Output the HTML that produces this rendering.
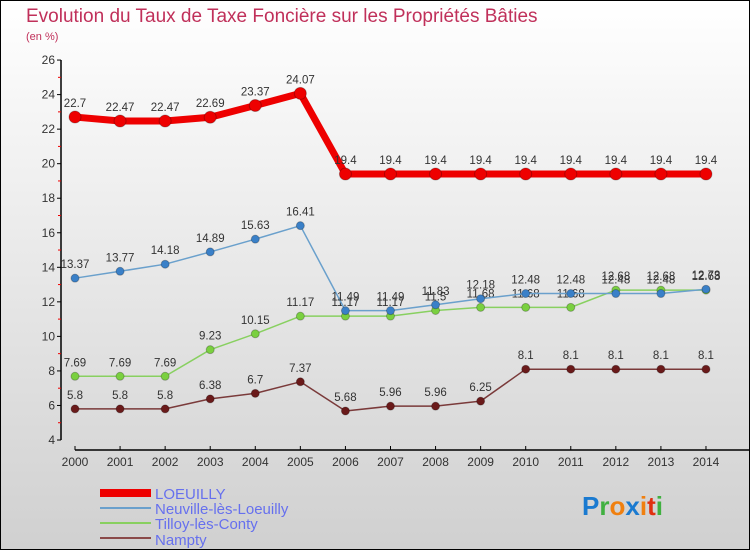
<!DOCTYPE html>
<html><head><meta charset="utf-8"><style>
body{margin:0;width:750px;height:550px;overflow:hidden;font-family:"Liberation Sans",sans-serif}
svg{display:block}
</style></head><body>
<svg id="c" width="750" height="550" xmlns="http://www.w3.org/2000/svg">
<defs><linearGradient id="bg" x1="0" y1="0" x2="0" y2="1"><stop offset="0" stop-color="#ffffff"/><stop offset="1" stop-color="#d0d0d0"/></linearGradient></defs>
<rect x="0.5" y="0.5" width="749" height="549" fill="url(#bg)" stroke="#000"/>
<text x="26" y="22" font-size="19" fill="#c0305a">Evolution du Taux de Taxe Foncière sur les Propriétés Bâties</text>
<text x="26" y="40" font-size="11" fill="#c0305a">(en %)</text>
<g id="axes"></g><g id="series"></g>
<g>
<rect x="100" y="489" width="51" height="8" fill="#e00"/>
<text x="155" y="499" font-size="15" fill="#6670ee">LOEUILLY</text>
<rect x="100" y="507" width="51" height="2" fill="#6aa0cc"/>
<text x="155" y="514" font-size="15" fill="#6670ee">Neuville-lès-Loeuilly</text>
<rect x="100" y="522" width="51" height="2" fill="#88d060"/>
<text x="155" y="529" font-size="15" fill="#6670ee">Tilloy-lès-Conty</text>
<rect x="100" y="537" width="51" height="2" fill="#8a4a4a"/>
<text x="155" y="545" font-size="15" fill="#6670ee">Nampty</text>
</g>
<g font-size="26" font-weight="bold">
<text x="582" y="515"><tspan fill="#1a7ad0">P</tspan><tspan fill="#40b040">r</tspan><tspan fill="#f08010">o</tspan><tspan fill="#1a7ad0">x</tspan><tspan fill="#f08010">i</tspan><tspan fill="#e03010">t</tspan><tspan fill="#40b040">i</tspan></text>
</g>
</svg>
<script>
const years=[2000,2001,2002,2003,2004,2005,2006,2007,2008,2009,2010,2011,2012,2013,2014];
const loeuilly=[22.7,22.47,22.47,22.69,23.37,24.07,19.4,19.4,19.4,19.4,19.4,19.4,19.4,19.4,19.4];
const neuville=[13.37,13.77,14.18,14.89,15.63,16.41,11.49,11.49,11.83,12.18,12.48,12.48,12.48,12.48,12.73];
const tilloy=[7.69,7.69,7.69,9.23,10.15,11.17,11.17,11.17,11.5,11.68,11.68,11.68,12.68,12.68,12.68];
const nampty=[5.8,5.8,5.8,6.38,6.7,7.37,5.68,5.96,5.96,6.25,8.1,8.1,8.1,8.1,8.1];
const yTicks=[4,6,8,10,12,14,16,18,20,22,24,26];
const NS="http://www.w3.org/2000/svg";
const x=i=>75+i*45.07;
const y=v=>440-(v-4)*17.27;
function mk(t,a,p){const e=document.createElementNS(NS,t);for(const k in a)e.setAttribute(k,a[k]);p.appendChild(e);return e;}
const ax=document.getElementById('axes');
mk('line',{x1:61,y1:60,x2:61,y2:440,stroke:'#000','stroke-width':1.5},ax);
mk('line',{x1:75,y1:450,x2:750,y2:450,stroke:'#000','stroke-width':1.5},ax);
yTicks.forEach(v=>{
 const g=mk('g',{},ax);
 
 
 mk('line',{x1:57,y1:y(v),x2:61,y2:y(v),stroke:'#000'},g);
 const t=mk('text',{x:55,y:y(v)+4,'font-size':12,'text-anchor':'end',fill:'#333'},g);t.textContent=v;
 if(v<26)mk('line',{x1:58,y1:y(v+1),x2:61,y2:y(v+1),stroke:'#e00'},g);
});
years.forEach((yr,i)=>{
 const g=mk('g',{},ax);
 
 
 mk('line',{x1:x(i),y1:446,x2:x(i),y2:450,stroke:'#000'},g);
 const t=mk('text',{x:x(i),y:466,'font-size':12,'text-anchor':'middle',fill:'#333'},g);t.textContent=yr;
});
const sg=document.getElementById('series');
function series(name,vals,col,dot,w,r){
 const g=mk('g',{},sg);
 
 
 mk('polyline',{points:vals.map((v,i)=>x(i)+','+y(v)).join(' '),fill:'none',stroke:col,'stroke-width':w,'stroke-linejoin':'round'},g);
 vals.forEach((v,i)=>{
  const c=mk('circle',{cx:x(i),cy:y(v),r:r,fill:dot,stroke:'#00000040'},g);
  
  
  const t=mk('text',{x:x(i),y:y(v)-10,'font-size':11.5,'text-anchor':'middle',fill:'#333'},g);
  t.textContent=v;
 });
}
series('nampty',nampty,'#7a3a3a','#6a1a1a',1.5,4);
series('tilloy',tilloy,'#88d060','#7ad040',1.5,4);
series('neuville',neuville,'#6aa0cc','#3a80c8',1.5,4);
series('loeuilly',loeuilly,'#e00','#e00',7,6);
</script>
</body></html>
